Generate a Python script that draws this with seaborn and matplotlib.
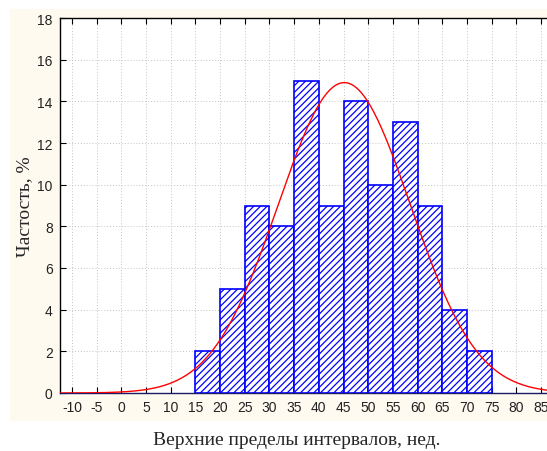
import numpy as np
import pandas as pd
import matplotlib
matplotlib.use("Agg")
import matplotlib.pyplot as plt
import seaborn as sns
from matplotlib.patches import Rectangle

# Data: upper limits of intervals (weeks) and frequency, %
upper_limits = [20, 25, 30, 35, 40, 45, 50, 55, 60, 65, 70, 75]
percent = [2, 5, 9, 8, 15, 9, 14, 10, 13, 9, 4, 2]
bin_width = 5
x_ticks = list(range(-10, 90, 5))
y_ticks = list(range(0, 20, 2))

edges = [upper_limits[0] - bin_width] + upper_limits
mids = [u - bin_width / 2 for u in upper_limits]
df = pd.DataFrame({"mid": mids, "pct": percent})

sns.set_style("white")
plt.rcParams["hatch.linewidth"] = 0.9
plt.rcParams["hatch.color"] = "#4040ff"

fig = plt.figure(figsize=(5.47, 4.52), dpi=100, facecolor="white")
W, H = 547, 452
# cream frame background
fig.patches.append(Rectangle((10 / W, 1 - 422 / H), (W - 10) / W, (422 - 10) / H,
                             transform=fig.transFigure, facecolor="#fffaf0",
                             edgecolor="none", zorder=-10))
ax = fig.add_axes([59.66 / W, 1 - 394 / H, 493.7 / W, 375 / H])
ax.set_zorder(1)
ax.set_facecolor("white")

sns.histplot(data=df, x="mid", weights="pct", bins=edges, stat="count",
             ax=ax, fill=True, facecolor="white", edgecolor="#0000ff",
             linewidth=1.2, alpha=1, zorder=3)
for p in ax.patches:
    p.set_hatch("/////")
    p.set_facecolor("white")
    p.set_edgecolor("#0000ff")

# fitted normal curve
m = np.average(mids, weights=percent)
s = np.sqrt(np.average((np.array(mids) - m) ** 2, weights=percent))
xs = np.linspace(-12.5, 87.5, 400)
ys = sum(percent) * bin_width / (s * np.sqrt(2 * np.pi)) * np.exp(-0.5 * ((xs - m) / s) ** 2)
sns.lineplot(x=xs, y=ys, ax=ax, color="#ff0000", linewidth=1.0, zorder=4)

ax.set_xlim(-12.5, 87.5)
ax.set_ylim(0, 18)
ax.set_xticks(x_ticks)
ax.set_yticks(y_ticks)
ax.set_xticklabels([str(t) for t in x_ticks], fontsize=10, family="Liberation Sans")
ax.set_yticklabels([str(t) for t in y_ticks], fontsize=10, family="Liberation Sans")
ax.tick_params(axis="both", direction="in", length=4, width=0.8, color="black",
               labelcolor="#222222", top=True, bottom=True, left=True, right=False, pad=5)
ax.grid(True, color="#c4c4c4", linestyle=(0, (1, 2)), linewidth=0.7, zorder=0)
ax.set_axisbelow(True)
for side in ["left", "top", "bottom"]:
    ax.spines[side].set_visible(True)
    ax.spines[side].set_color("black")
    ax.spines[side].set_linewidth(1.0)
ax.spines["bottom"].set_color("#1a1a66")
ax.spines["right"].set_visible(False)

ax.set_xlabel("Верхние пределы интервалов, нед.", fontsize=14,
              family="Liberation Serif")
ax.set_ylabel("Частость, %", fontsize=14, family="Liberation Serif")
ax.xaxis.set_label_coords((297 - 59.66) / 493.7, -(441 - 394) / 375)
ax.yaxis.set_label_coords(-(59.66 - 25) / 493.7, (394 - 207) / 375)
ax.xaxis.label.set_va("center")
ax.yaxis.label.set_va("center")

fig.savefig("out.png", dpi=100, facecolor=fig.get_facecolor())
